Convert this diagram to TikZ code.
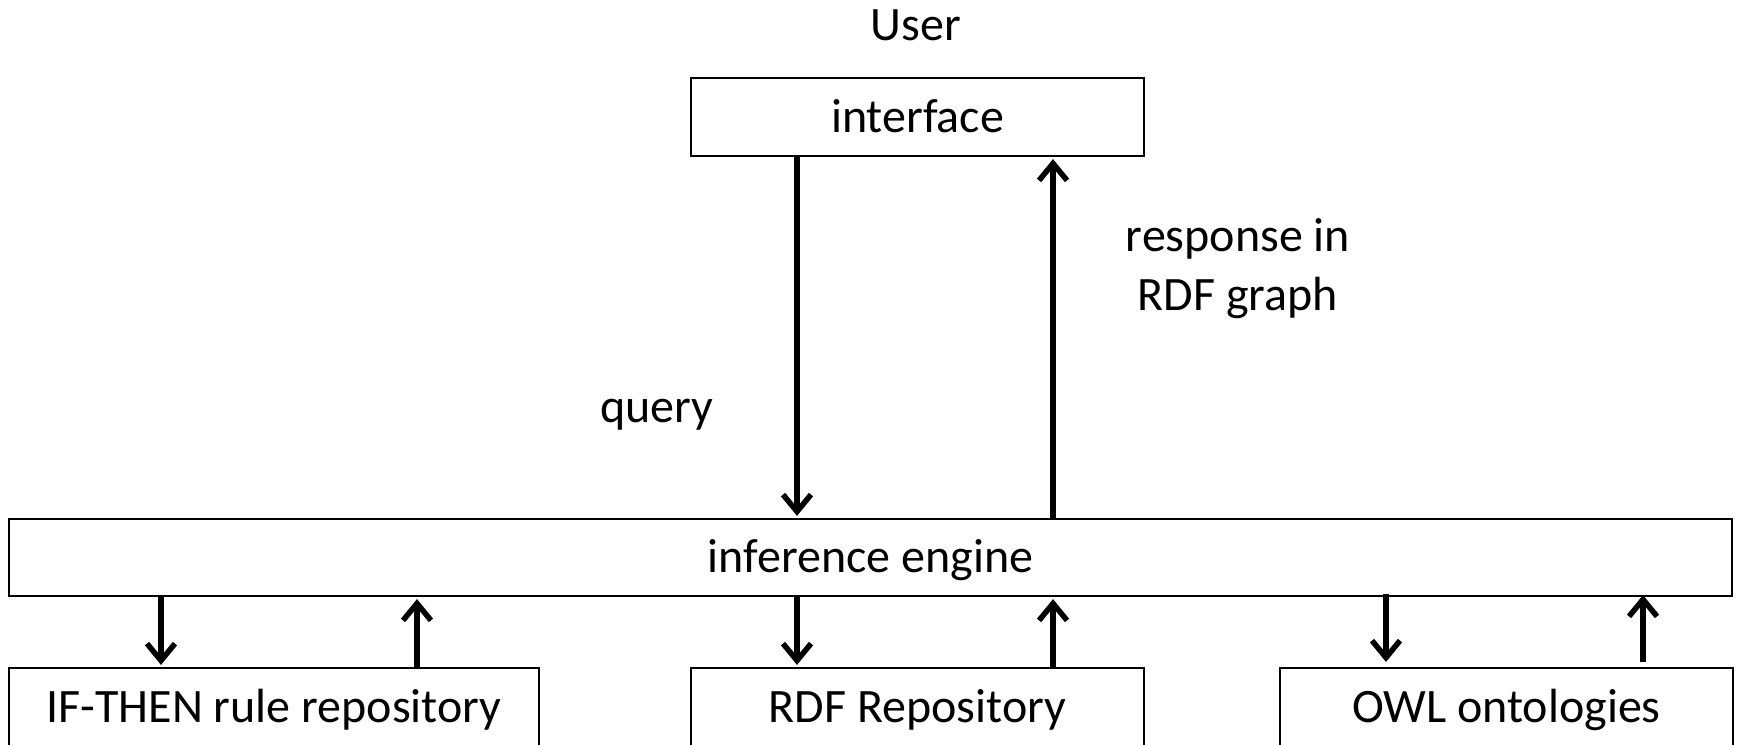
\documentclass[tikz,border=0pt]{standalone}
\usepackage{fontspec}
\setmainfont{Carlito}
\usetikzlibrary{arrows.meta}
\begin{document}
\begin{tikzpicture}[x=1pt,y=-1pt,
  every node/.style={font=\fontsize{48}{59}\selectfont},
  box/.style={draw, line width=2.2pt, inner sep=0pt, text height=34pt, text depth=4pt},
  flow/.style={line width=5.5pt, -{Straight Barb[length=17pt,width=28pt]}, shorten >=2pt}]
\useasboundingbox (0,0) rectangle (1739,744);

% boxes
\node[box, minimum width=453pt, minimum height=78pt] (iface) at (917.5,117) {interface};
\node[box, minimum width=1723pt, minimum height=77pt] (eng) at (870.5,557.5) {inference engine};
\node[box, minimum width=530pt, minimum height=78pt] (ifr) at (274,707) {IF-THEN rule repository};
\node[box, minimum width=453pt, minimum height=78pt] (rdf) at (917.5,707) {RDF Repository};
\node[box, minimum width=453pt, minimum height=78pt] (owl) at (1506.5,707) {OWL ontologies};

% free labels
\node[anchor=base] (user) at (916,40) {User};
\node[anchor=base] (query) at (657,422) {query};
\node[anchor=base, align=center] (resp) at (1238,310) {response in\\RDF graph};

% interface <-> engine
\draw[flow] (iface.south -| 797,0) -- (eng.north -| 797,0);
\draw[flow] (eng.north -| 1053,0) -- (iface.south -| 1053,0);

% engine <-> repositories
\draw[flow] (eng.south -| 161,0) -- (ifr.north -| 161,0);
\draw[flow] (ifr.north -| 417,0) -- (eng.south -| 417,0);
\draw[flow] (eng.south -| 797,0) -- (rdf.north -| 797,0);
\draw[flow] (rdf.north -| 1053,0) -- (eng.south -| 1053,0);
\draw[flow, shorten <=-3pt, shorten >=5pt] (eng.south -| 1386,0) -- (owl.north -| 1386,0);
\draw[flow, shorten <=5pt, shorten >=-2pt] (owl.north -| 1643,0) -- (eng.south -| 1643,0);
\end{tikzpicture}
\end{document}
